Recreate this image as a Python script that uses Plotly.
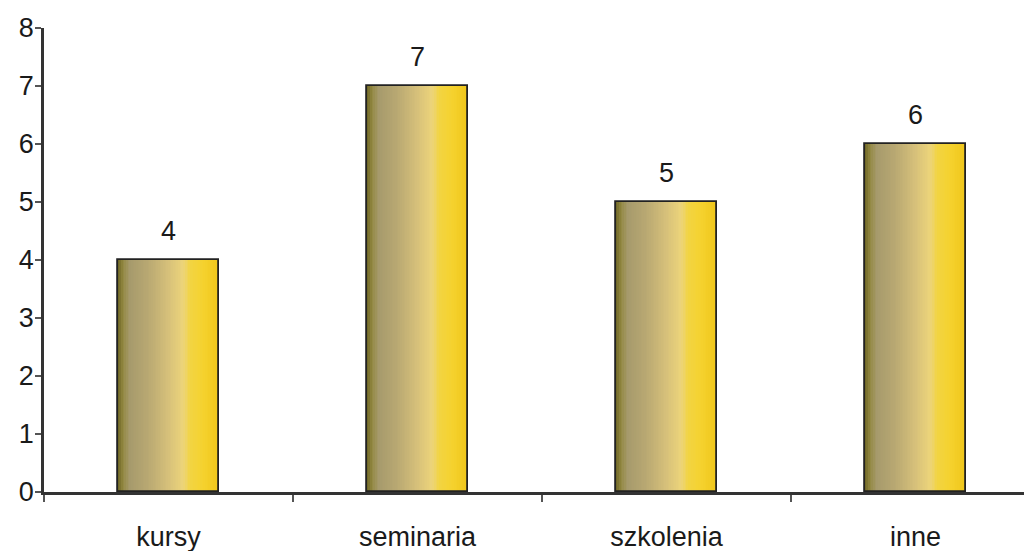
import plotly.graph_objects as go

# Data
categories = ["kursy", "seminaria", "szkolenia", "inne"]
values = [4, 7, 5, 6]
y_ticks = [0, 1, 2, 3, 4, 5, 6, 7, 8]

# Style: horizontal shading of each column (position 0..1 -> colour)
shade_stops = [
    (0.00, (104, 96, 34)),
    (0.05, (146, 136, 64)),
    (0.12, (166, 154, 108)),
    (0.30, (184, 168, 114)),
    (0.50, (214, 192, 122)),
    (0.65, (236, 212, 122)),
    (0.72, (242, 212, 66)),
    (0.85, (245, 210, 46)),
    (1.00, (240, 198, 26)),
]
N_STRIPES = 60
BAR_W = 0.406
FONT = "Liberation Sans, Arial, sans-serif"
FSIZE = 27


def shade(t):
    for (t0, c0), (t1, c1) in zip(shade_stops[:-1], shade_stops[1:]):
        if t0 <= t <= t1:
            f = (t - t0) / (t1 - t0) if t1 > t0 else 0
            c = [round(a + (b - a) * f) for a, b in zip(c0, c1)]
            return "rgb(%d,%d,%d)" % tuple(c)
    return "rgb(%d,%d,%d)" % shade_stops[-1][1]


fig = go.Figure()

step = BAR_W / N_STRIPES
for i in range(N_STRIPES):
    t = (i + 0.5) / N_STRIPES
    fig.add_trace(go.Bar(
        x=categories, y=values,
        width=step * 1.15, offset=-BAR_W / 2 + i * step,
        marker=dict(color=shade(t), line=dict(width=0)),
        hoverinfo="skip", showlegend=False,
    ))

# Outline of each column
fig.add_trace(go.Bar(
    x=categories, y=values,
    width=BAR_W, offset=-BAR_W / 2,
    marker=dict(color="rgba(0,0,0,0)", line=dict(color="#222", width=1.8)),
    showlegend=False,
))

# Value labels above columns
for c, v in zip(categories, values):
    fig.add_annotation(
        x=c, y=v, text=str(v), showarrow=False,
        yanchor="bottom", yshift=12,
        font=dict(family=FONT, size=FSIZE, color="#1a1a1a"),
    )

fig.update_layout(
    width=1024, height=551,
    margin=dict(l=44, r=0, t=28, b=59),
    paper_bgcolor="white", plot_bgcolor="white",
    barmode="overlay", bargap=0,
    font=dict(family=FONT, size=FSIZE, color="#1a1a1a"),
)

fig.update_xaxes(
    type="category",
    range=[-0.5, -0.5 + (1024 - 44) / 249],
    showline=True, linecolor="#333", linewidth=2.5,
    ticks="outside", tickson="boundaries", ticklen=7, tickcolor="#555", tickwidth=1.5,
    tickfont=dict(family=FONT, size=FSIZE, color="#1a1a1a"),
    ticklabelstandoff=19, automargin=False,
    showgrid=False, zeroline=False,
)
fig.update_yaxes(
    range=[0, 8], tickvals=y_ticks,
    showline=True, linecolor="#333", linewidth=2.5,
    ticks="outside", ticklen=6, tickcolor="#555", tickwidth=1.5,
    tickfont=dict(family=FONT, size=FSIZE, color="#1a1a1a"),
    ticklabelstandoff=-4, automargin=False,
    showgrid=False, zeroline=False,
)

fig.write_html("out.html")
